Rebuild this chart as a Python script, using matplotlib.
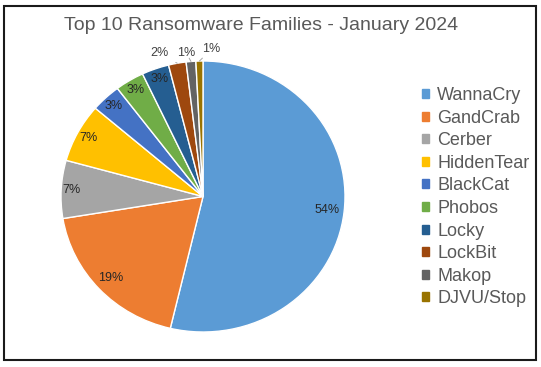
import matplotlib
matplotlib.use("Agg")
import matplotlib.pyplot as plt
import numpy as np
from matplotlib.patches import Rectangle, Patch

families = ["WannaCry", "GandCrab", "Cerber", "HiddenTear", "BlackCat",
            "Phobos", "Locky", "LockBit", "Makop", "DJVU/Stop"]
shares = [53.7, 18.7, 6.9, 7.0, 3.4, 3.3, 3.1, 2.0, 1.1, 0.8]
colors = ["#5B9BD5", "#ED7D31", "#A5A5A5", "#FFC000", "#4472C4",
          "#70AD47", "#255E91", "#9E480E", "#636363", "#997300"]
title = "Top 10 Ransomware Families - January 2024"

plt.rcParams['font.family'] = ['Liberation Sans', 'DejaVu Sans']

W, H = 541, 367
fig = plt.figure(figsize=(W / 100, H / 100), dpi=100)

# outer frame
fig.patches.append(Rectangle((3.5 / W, 1 - 360 / H), 532 / W, 354 / H,
                             transform=fig.transFigure, fill=False,
                             edgecolor="#1a1a1a", lw=1.5))

# pie axes (center 203,196.5 ; rx 142, ry 135.5 in px)
cx, cy, rx, ry = 203, 196.5, 142, 135.5
ax = fig.add_axes([(cx - rx) / W, (H - cy - ry) / H, 2 * rx / W, 2 * ry / H])

n_inside = 7
total = sum(shares)

wedges, _ = ax.pie(shares, colors=colors, startangle=90, counterclock=False,
                   wedgeprops=dict(edgecolor="white", linewidth=1.0),
                   radius=1.0)
ax.set_aspect('auto')
ax.set_xlim(-1, 1)
ax.set_ylim(-1, 1)
ax.axis('off')

# inside labels
inside_r = [0.88, 0.885, 0.93, 0.915, 0.917, 0.92, 0.918]
cum = 0.0
mids = []
for v in shares:
    mids.append((cum + v / 2) / total)
    cum += v
for i in range(n_inside):
    ang = 2 * np.pi * mids[i]
    x = inside_r[i] * np.sin(ang)
    y = inside_r[i] * np.cos(ang)
    ax.text(x, y, f"{round(shares[i]):d}%", ha="center", va="center",
            fontsize=9, color="#262626")

# outside labels with leader lines
out_pos = [(-0.31, 1.057), (-0.116, 1.057), (0.059, 1.086)]
for k, i in enumerate(range(n_inside, len(shares))):
    ang = 2 * np.pi * mids[i]
    ex, ey = 1.0 * np.sin(ang), 1.0 * np.cos(ang)
    tx, ty = out_pos[k]
    ax.annotate(f"{round(shares[i]):d}%", xy=(ex, ey), xytext=(tx, ty),
                ha="center", va="center", fontsize=9, color="#404040",
                annotation_clip=False,
                arrowprops=dict(arrowstyle="-", color="#A6A6A6", lw=0.7,
                                shrinkA=4, shrinkB=0))

# title
fig.text(261 / W, 1 - 25 / H, title, ha="center", va="center",
         fontsize=14, color="#595959")

# legend
handles = [Patch(facecolor=c, edgecolor=c) for c in colors]
leg = fig.legend(handles, families, loc="upper left",
                 bbox_to_anchor=(422 / W, 1 - 87 / H),
                 frameon=False, fontsize=13, handlelength=0.4,
                 handleheight=0.4, handletextpad=0.45, labelspacing=0.31,
                 borderpad=0, borderaxespad=0)
for t in leg.get_texts():
    t.set_color("#595959")

fig.savefig("out.png", dpi=100)
